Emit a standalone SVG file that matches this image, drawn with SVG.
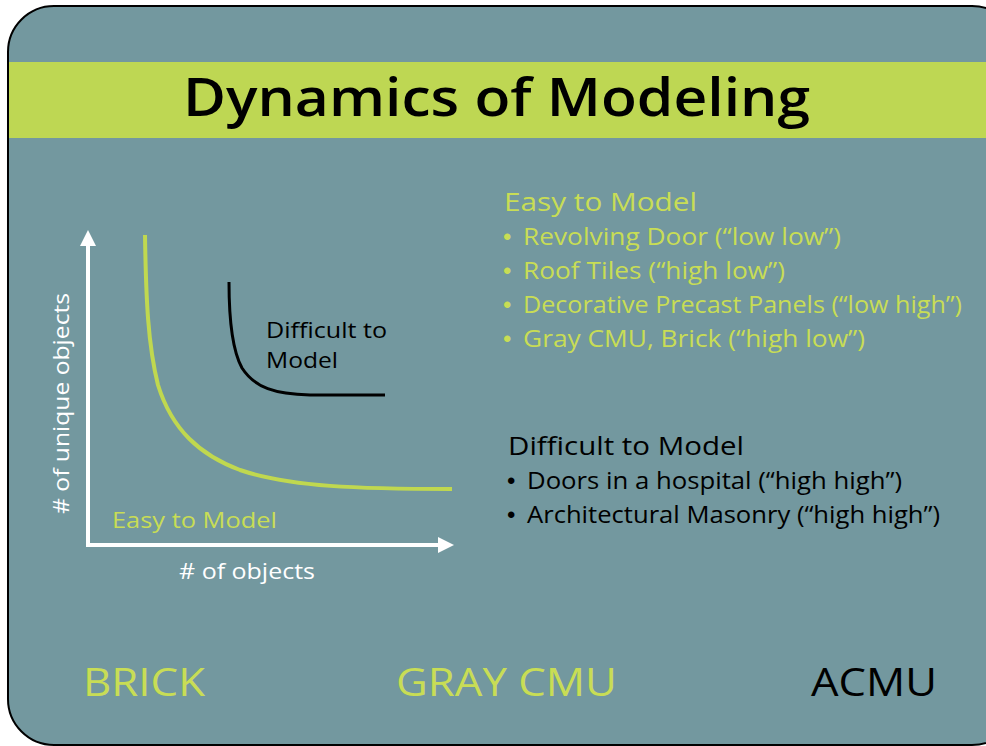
<svg xmlns="http://www.w3.org/2000/svg" width="986" height="746" viewBox="0 0 986 746">
<style>
text{font-family:"Open Sans",Lato,"Liberation Sans",sans-serif}
.g{fill:#c8dd55}
.w{fill:#ffffff}
.k{fill:#000000}
.t22{font-size:22px}
.b{font-size:24px}
.dot{font-family:"Liberation Sans",Arial,sans-serif;font-size:24px}
</style>
<defs>
<marker id="ah" viewBox="0 0 10 10" refX="5" refY="5" markerWidth="4" markerHeight="4" orient="auto" markerUnits="strokeWidth">
<path d="M0,0 L10,5 L0,10 z" fill="#ffffff"/>
</marker>
</defs>
<g id="frame">
<rect x="8" y="6" width="1010" height="739" rx="46" ry="46" fill="#73989f" stroke="#000" stroke-width="2"/>
<rect x="9" y="62" width="977" height="76" fill="#bed753"/>
<text x="183" y="116" font-size="52" font-weight="600" class="k" textLength="627" lengthAdjust="spacingAndGlyphs">Dynamics of Modeling</text>
</g>
<g id="connectors">
<line x1="88" y1="547" x2="88" y2="238" stroke="#fff" stroke-width="4" marker-end="url(#ah)"/>
<line x1="86" y1="545" x2="446" y2="545" stroke="#fff" stroke-width="4" marker-end="url(#ah)"/>
<path d="M145,235 C146,300 148,345 158,385 C172,430 200,455 240,470 C290,487 360,489 452,489" fill="none" stroke="#c0d84f" stroke-width="4"/>
<path d="M229,282 C229,320 232,350 242,368 C255,388 275,394 310,395 L385,395" fill="none" stroke="#000" stroke-width="3"/>
</g>
<g id="chart-labels">
<text x="266" y="338" class="k t22" textLength="121" lengthAdjust="spacingAndGlyphs">Difficult to</text>
<text x="266" y="368" class="k t22" textLength="72" lengthAdjust="spacingAndGlyphs">Model</text>
<text x="112" y="528" class="g t22" textLength="165" lengthAdjust="spacingAndGlyphs">Easy to Model</text>
<text x="179" y="579" class="w t22" textLength="136" lengthAdjust="spacingAndGlyphs">&#35; of objects</text>
<text transform="translate(69,514) rotate(-90)" class="w t22" textLength="221" lengthAdjust="spacingAndGlyphs">&#35; of unique objects</text>
</g>
<g id="easy-list">
<text x="504" y="211" class="g" font-size="26" textLength="193" lengthAdjust="spacingAndGlyphs">Easy to Model</text>
<text x="503" y="245" class="g b"><tspan class="dot">•</tspan><tspan x="523" textLength="318" lengthAdjust="spacingAndGlyphs">Revolving Door (“low low”)</tspan></text>
<text x="503" y="279" class="g b"><tspan class="dot">•</tspan><tspan x="523" textLength="262" lengthAdjust="spacingAndGlyphs">Roof Tiles (“high low”)</tspan></text>
<text x="503" y="313" class="g b"><tspan class="dot">•</tspan><tspan x="523" textLength="439" lengthAdjust="spacingAndGlyphs">Decorative Precast Panels (“low high”)</tspan></text>
<text x="503" y="347" class="g b"><tspan class="dot">•</tspan><tspan x="523" textLength="342" lengthAdjust="spacingAndGlyphs">Gray CMU, Brick (“high low”)</tspan></text>
</g>
<g id="difficult-list">
<text x="508" y="455" class="k" font-size="25" textLength="236" lengthAdjust="spacingAndGlyphs">Difficult to Model</text>
<text x="507" y="489" class="k b"><tspan class="dot">•</tspan><tspan x="527" textLength="375" lengthAdjust="spacingAndGlyphs">Doors in a hospital (“high high”)</tspan></text>
<text x="507" y="523" class="k b"><tspan class="dot">•</tspan><tspan x="527" textLength="413" lengthAdjust="spacingAndGlyphs">Architectural Masonry (“high high”)</tspan></text>
</g>
<g id="materials">
<text x="83" y="696" class="g" font-size="39" textLength="122" lengthAdjust="spacingAndGlyphs">BRICK</text>
<text x="396" y="696" class="g" font-size="39" textLength="221" lengthAdjust="spacingAndGlyphs">GRAY CMU</text>
<text x="811" y="696" class="k" font-size="39" textLength="126" lengthAdjust="spacingAndGlyphs">ACMU</text>
</g>
</svg>
